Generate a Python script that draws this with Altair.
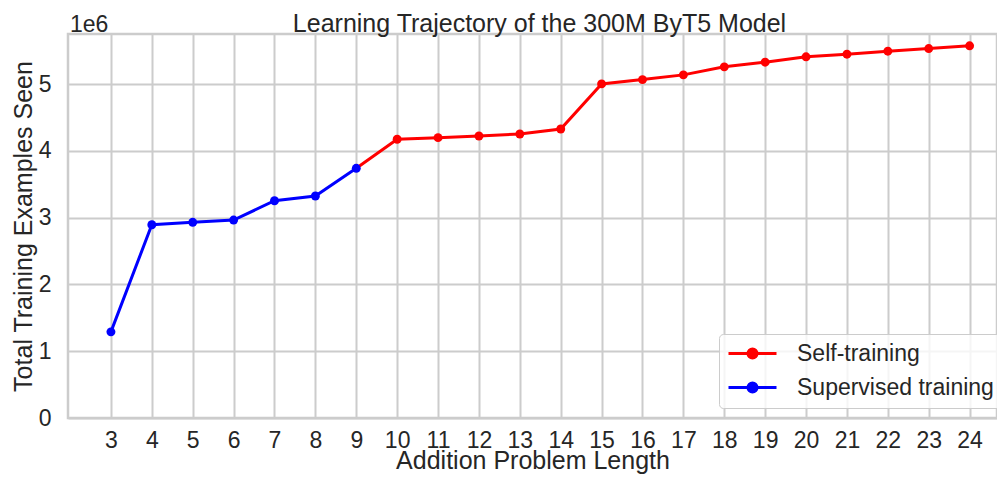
import altair as alt
import pandas as pd

# ---- data ----
supervised_len = [3, 4, 5, 6, 7, 8, 9]
supervised_vals = [1.290e6, 2.894e6, 2.930e6, 2.964e6, 3.253e6, 3.324e6, 3.739e6]

self_len = [10, 11, 12, 13, 14, 15, 16, 17, 18, 19, 20, 21, 22, 23, 24]
self_vals = [4.174e6, 4.198e6, 4.223e6, 4.253e6, 4.328e6, 5.003e6, 5.067e6,
             5.138e6, 5.258e6, 5.328e6, 5.408e6, 5.448e6, 5.493e6, 5.532e6, 5.573e6]

series_names = ["Self-training", "Supervised training"]
series_colors = ["#ff0000", "#0000ff"]
x_ticks = list(range(3, 25))
y_ticks = [0, 1e6, 2e6, 3e6, 4e6, 5e6]

FONT = "Liberation Sans"
TXT = "#262626"

sup_df = pd.DataFrame({"len": supervised_len, "val": supervised_vals,
                       "series": series_names[1]})
# the self-training curve continues from the last supervised point
self_line_df = pd.DataFrame({"len": [supervised_len[-1]] + self_len,
                             "val": [supervised_vals[-1]] + self_vals,
                             "series": series_names[0]})
self_pts_df = pd.DataFrame({"len": self_len, "val": self_vals,
                            "series": series_names[0]})

x_enc = alt.X("len:Q",
              scale=alt.Scale(domain=[1.95, 24.67], nice=False, zero=False),
              axis=alt.Axis(values=x_ticks, title="Addition Problem Length",
                            labelPadding=11, titlePadding=-4, labelFlush=False))
y_enc = alt.Y("val:Q",
              scale=alt.Scale(domain=[0, 5.75e6], nice=False),
              axis=alt.Axis(values=y_ticks, title="Total Training Examples Seen",
                            labelExpr="format(datum.value / 1000000, 'd')",
                            labelPadding=17, titlePadding=2, labelFlush=False))

sym_path = ("M-2.4,0H2.4M-0.45,0A0.45,0.45,0,1,0,0.45,0"
            "A0.45,0.45,0,1,0,-0.45,0Z")
legend = alt.Legend(title=None, orient="none", legendX=651, legendY=300,
                    symbolType=sym_path, symbolSize=400, symbolStrokeWidth=3,
                    symbolOffset=14, symbolOpacity=1, labelOffset=33,
                    labelFont=FONT, labelFontSize=23, labelColor=TXT, labelLimit=400,
                    padding=8, rowPadding=10, cornerRadius=4,
                    fillColor="rgba(255,255,255,0.8)", strokeColor="#cccccc")

color_scale = alt.Scale(domain=series_names, range=series_colors)
stroke_enc = alt.Stroke("series:N", scale=color_scale, legend=legend)
fill_enc = alt.Fill("series:N", scale=color_scale, legend=legend)

def line_layer(df):
    return alt.Chart(df).mark_line(strokeWidth=3).encode(x=x_enc, y=y_enc, stroke=stroke_enc)

def pts_layer(df):
    return alt.Chart(df).mark_circle(size=80, opacity=1).encode(x=x_enc, y=y_enc, fill=fill_enc)

offset_text = alt.Chart(pd.DataFrame({"t": ["1e6"]})).mark_text(
    align="left", baseline="alphabetic", font=FONT, fontSize=23, color=TXT
).encode(x=alt.value(2), y=alt.value(-2), text="t:N")

chart = alt.layer(
    line_layer(self_line_df), pts_layer(self_pts_df),
    line_layer(sup_df), pts_layer(sup_df),
    offset_text,
).properties(
    width=929, height=384,
    padding={"left": 60, "top": 26, "right": 0, "bottom": 57},
    autosize=alt.AutoSizeParams(type="none"),
    title=alt.TitleParams("Learning Trajectory of the 300M ByT5 Model",
                          font=FONT, fontSize=25, fontWeight="normal", color=TXT,
                          anchor="middle", baseline="alphabetic", offset=-43, dx=7),
).configure_axis(
    labelFont=FONT, labelFontSize=23, labelColor=TXT,
    titleFont=FONT, titleFontSize=25, titleColor=TXT, titleFontWeight="normal",
    gridColor="#cccccc", gridWidth=2, gridOpacity=1,
    domain=False, ticks=False,
).configure_view(stroke="#cccccc", strokeWidth=2.5)

chart.save("out.html", embed_options={"renderer": "svg", "actions": False})
